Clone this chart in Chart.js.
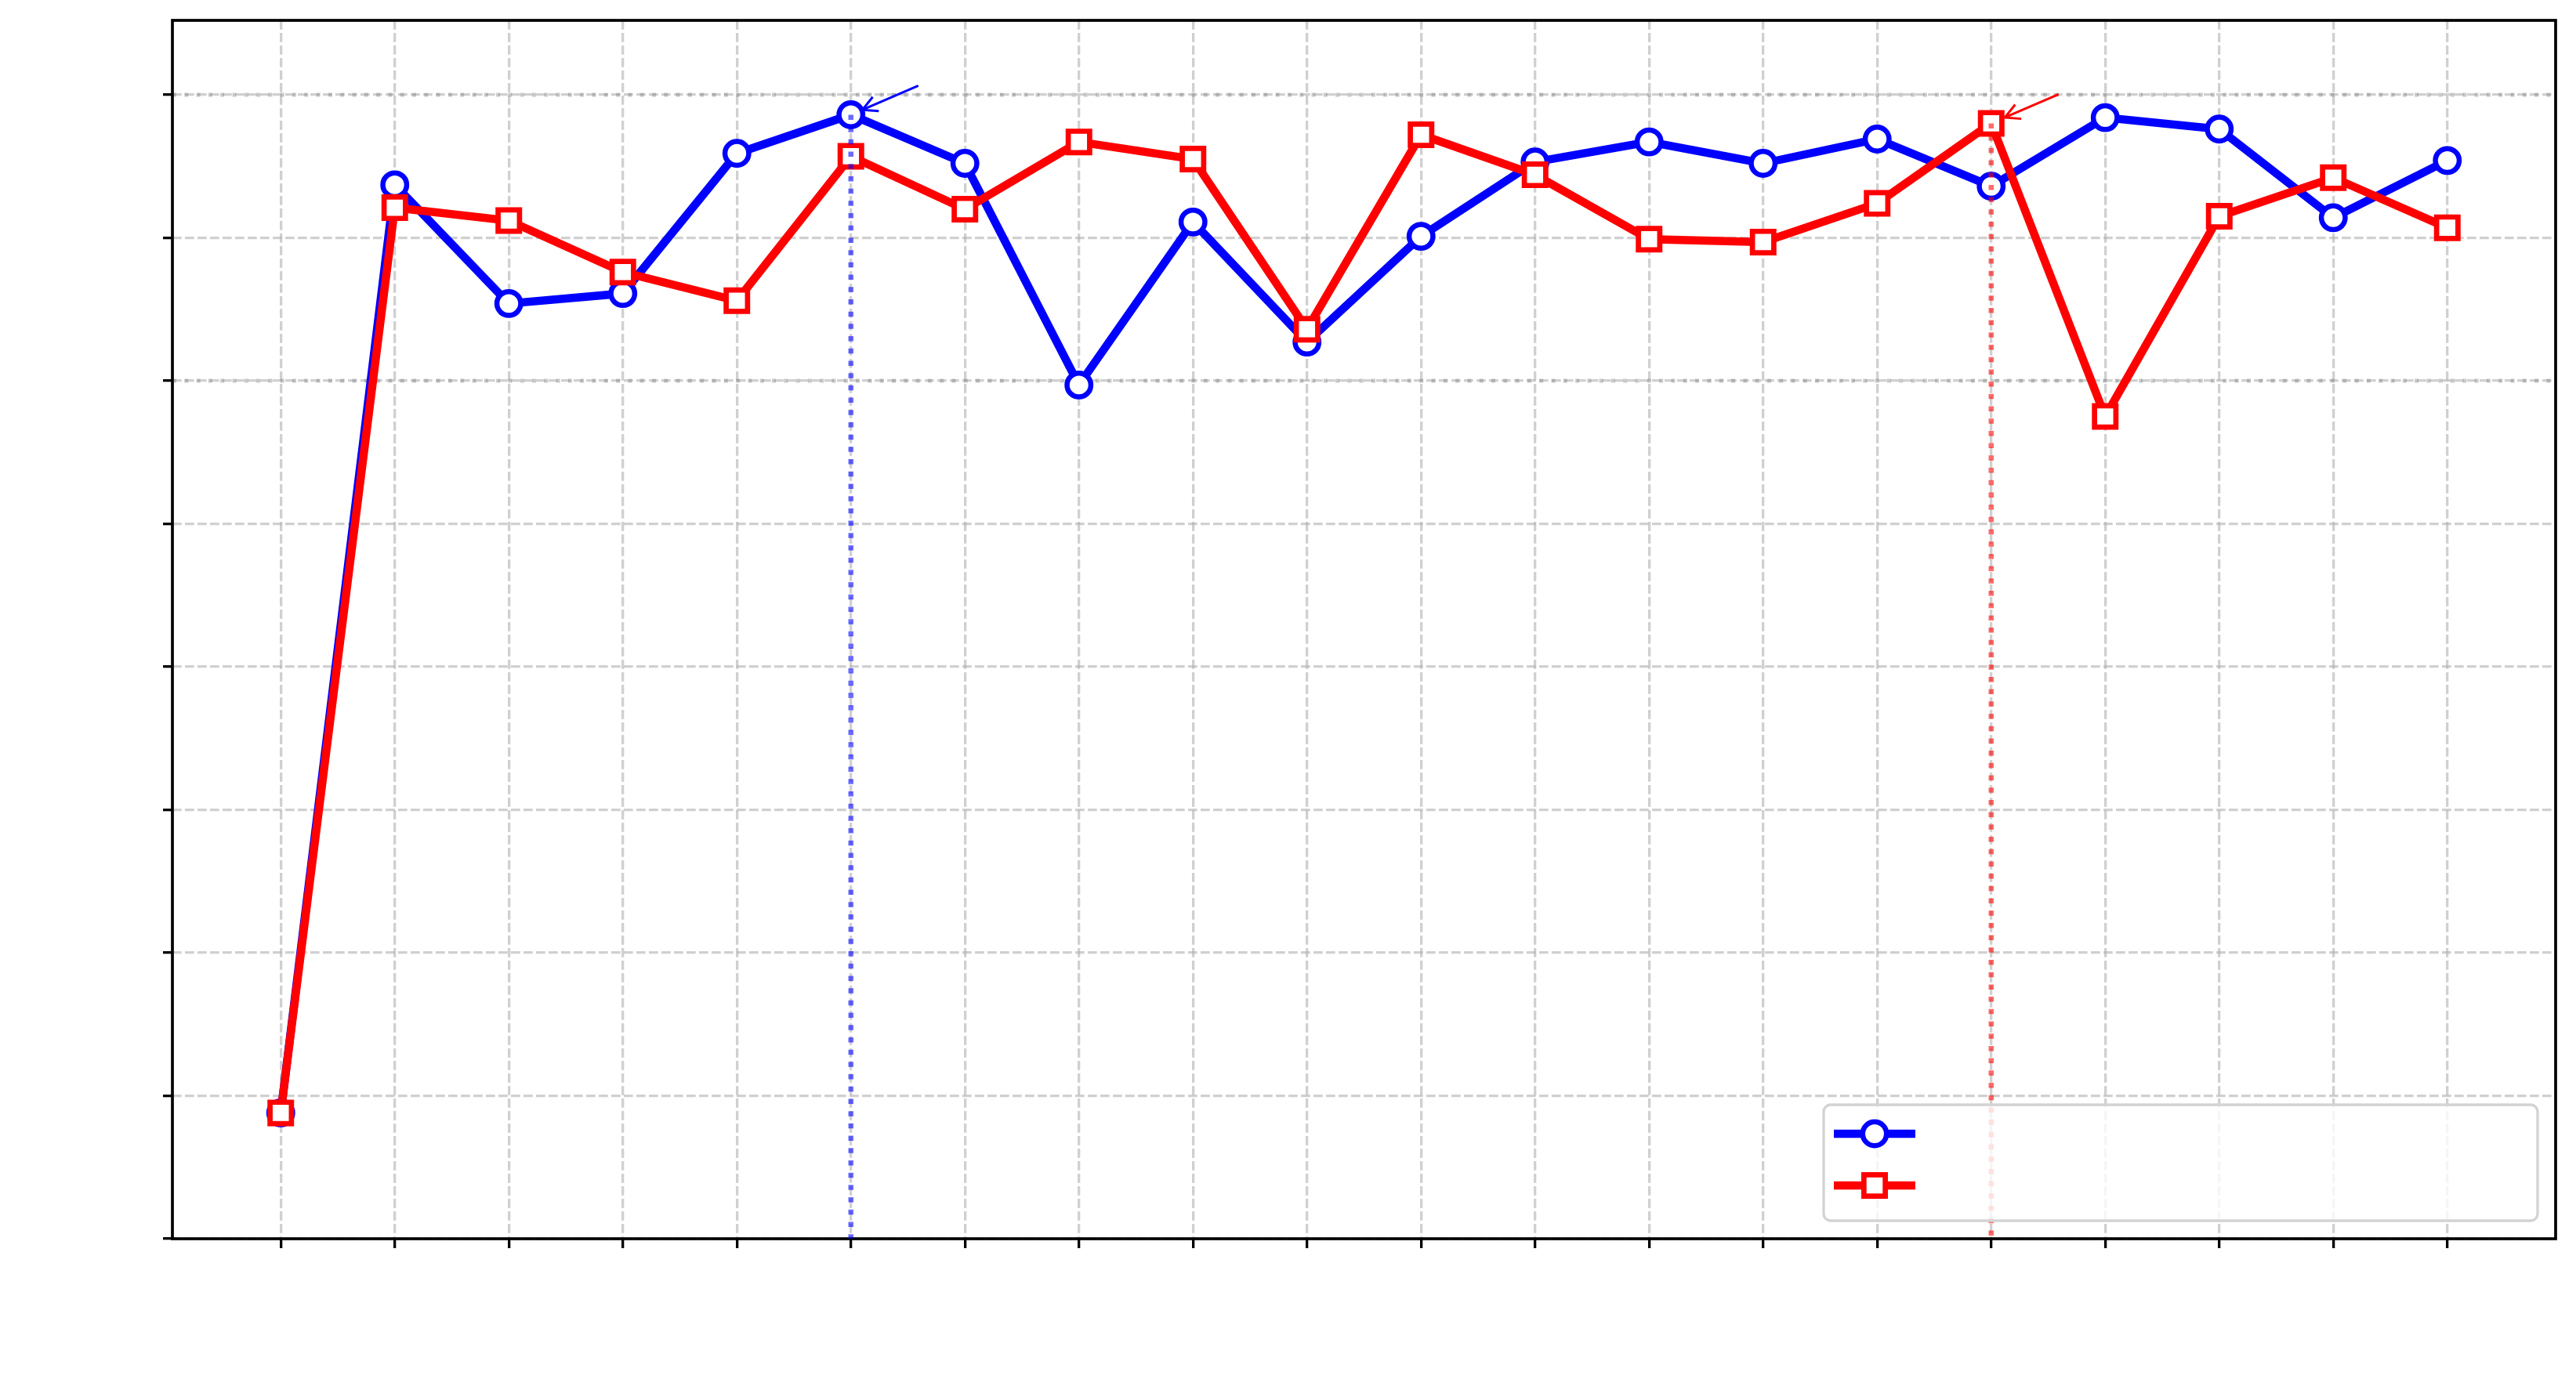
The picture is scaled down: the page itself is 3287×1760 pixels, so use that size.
<!DOCTYPE html>
<html><head><meta charset="utf-8">
<script src="https://cdn.jsdelivr.net/npm/chart.js@4/dist/chart.umd.min.js"></script>
<style>html,body{margin:0;padding:0;background:#fff;overflow:hidden}#wrap{width:3287px;height:1760px}</style>
</head><body><div id="wrap"><canvas id="c" width="3287" height="1760"></canvas></div>
<script>
// ---- data ----
const xValues = [0,1,2,3,4,5,6,7,8,9,10,11,12,13,14,15,16,17,18,19];
const xTickValues = [0,1,2,3,4,5,6,7,8,9,10,11,12,13,14,15,16,17,18,19];
const yTickValues = [0,10,20,30,40,50,60,70,80];
const seriesBlue = [8.8,73.7,65.4,66.1,75.9,78.6,75.2,59.7,71.1,62.7,70.1,75.3,76.7,75.2,76.9,73.6,78.4,77.6,71.4,75.4];
const seriesRed  = [8.8,72.1,71.2,67.6,65.6,75.7,72.0,76.7,75.5,63.6,77.2,74.4,69.9,69.7,72.4,78.0,57.5,71.5,74.2,70.7];
const seriesNames = ['', ''];
const referenceLevels = [80, 60];
const bestBlueIndex = 5;
const bestRedIndex = 15;
const yMin = 0, yMax = 85.2;
const xMin = -0.95, xMax = 19.95;

const BLUE = '#0000ff', RED = '#ff0000';
const CIRCLE_R = 15.2, CIRCLE_BW = 6.5;
const RECT_R = 19.3, RECT_BW = 6.7;

const toPts = arr => xValues.map((x, i) => ({x: x, y: arr[i]}));

const extras = {
  id: 'extras',
  beforeDatasetsDraw(chart) {
    const {ctx, chartArea: a, scales: {y}} = chart;
    ctx.save();
    ctx.strokeStyle = 'rgba(128,128,128,0.42)';
    ctx.lineWidth = 5;
    ctx.setLineDash([5, 10.3]);
    referenceLevels.forEach(v => {
      const py = y.getPixelForValue(v);
      ctx.beginPath(); ctx.moveTo(a.left, py); ctx.lineTo(a.right, py); ctx.stroke();
    });
    ctx.restore();
  },
  afterDatasetsDraw(chart) {
    const {ctx, chartArea: a} = chart;
    ctx.save();
    ctx.strokeStyle = '#000'; ctx.lineWidth = 3.7; ctx.setLineDash([]);
    ctx.strokeRect(a.left, a.top, a.right - a.left, a.bottom - a.top);
    ctx.restore();
    const marks = [
      {ds: 0, idx: bestBlueIndex, color: 'rgba(0,0,255,0.58)', solid: BLUE, shrink: 16},
      {ds: 1, idx: bestRedIndex, color: 'rgba(255,0,0,0.58)', solid: RED, shrink: 19}
    ];
    marks.forEach(m => {
      const p = chart.getDatasetMeta(m.ds).data[m.idx];
      ctx.save();
      ctx.strokeStyle = m.color; ctx.lineWidth = 6.5; ctx.setLineDash([6.5, 9.2]);
      ctx.beginPath(); ctx.moveTo(p.x, p.y); ctx.lineTo(p.x, a.bottom); ctx.stroke();
      ctx.restore();
      const sx = p.x + 86, sy = p.y - 37;
      const dx = sx - p.x, dy = sy - p.y, L = Math.hypot(dx, dy);
      const ux = dx / L, uy = dy / L;
      const tx = p.x + ux * m.shrink, ty = p.y + uy * m.shrink;
      ctx.save();
      ctx.strokeStyle = m.solid; ctx.lineWidth = 3; ctx.setLineDash([]);
      ctx.beginPath(); ctx.moveTo(sx, sy); ctx.lineTo(tx, ty); ctx.stroke();
      const ang = Math.atan2(uy, ux), ha = 28 * Math.PI / 180, hl = 21;
      ctx.beginPath();
      ctx.moveTo(tx + Math.cos(ang - ha) * hl, ty + Math.sin(ang - ha) * hl);
      ctx.lineTo(tx, ty);
      ctx.lineTo(tx + Math.cos(ang + ha) * hl, ty + Math.sin(ang + ha) * hl);
      ctx.stroke();
      ctx.restore();
    });
  },
  afterDraw(chart) {
    const {ctx, chartArea: a} = chart;
    const w = 911, h = 148;
    const right = a.right - 23, bottom = a.bottom - 23;
    const left = right - w, top = bottom - h;
    ctx.save();
    ctx.beginPath();
    ctx.roundRect(left, top, w, h, 9);
    ctx.fillStyle = 'rgba(255,255,255,0.8)';
    ctx.fill();
    ctx.strokeStyle = '#d3d3d3'; ctx.lineWidth = 3.3;
    ctx.stroke();
    const rows = [
      {color: BLUE, style: 'circle', r: CIRCLE_R, bw: CIRCLE_BW, y: top + 37},
      {color: RED, style: 'rect', r: RECT_R, bw: RECT_BW, y: top + 103}
    ];
    rows.forEach((r, i) => {
      const x1 = left + 13, x2 = left + 117, cx = (x1 + x2) / 2;
      ctx.strokeStyle = r.color; ctx.lineWidth = 10.5;
      ctx.beginPath(); ctx.moveTo(x1, r.y); ctx.lineTo(x2, r.y); ctx.stroke();
      ctx.fillStyle = '#fff'; ctx.lineWidth = r.bw;
      Chart.helpers.drawPoint(ctx, {pointStyle: r.style, radius: r.r, borderWidth: r.bw, rotation: 0}, cx, r.y);
      ctx.fillStyle = '#000'; ctx.font = '40px "DejaVu Sans"'; ctx.textBaseline = 'middle';
      ctx.fillText(seriesNames[i], x2 + 30, r.y);
    });
    ctx.restore();
  }
};

const gridCommon = {
  color: 'rgba(176,176,176,0.6)', lineWidth: 3.3,
  tickColor: '#000', tickWidth: 3.3, tickLength: 12, drawTicks: true, drawOnChartArea: true
};

new Chart(document.getElementById('c'), {
  type: 'line',
  data: {
    datasets: [
      {label: seriesNames[0], data: toPts(seriesBlue), borderColor: BLUE, borderWidth: 10.5,
       pointStyle: 'circle', pointRadius: CIRCLE_R, pointBorderWidth: CIRCLE_BW, pointBackgroundColor: '#fff',
       pointBorderColor: BLUE, tension: 0, order: 2, fill: false},
      {label: seriesNames[1], data: toPts(seriesRed), borderColor: RED, borderWidth: 10.5,
       pointStyle: 'rect', pointRadius: RECT_R, pointBorderWidth: RECT_BW, pointBackgroundColor: '#fff',
       pointBorderColor: RED, tension: 0, order: 1, fill: false}
    ]
  },
  options: {
    responsive: false, animation: false, devicePixelRatio: 1,
    layout: {padding: {left: 208, right: 22, top: 25, bottom: 167}},
    plugins: {legend: {display: false}, tooltip: {enabled: false}, title: {display: false}},
    scales: {
      x: {type: 'linear', min: xMin, max: xMax,
          afterBuildTicks: s => { s.ticks = xTickValues.map(v => ({value: v})); },
          ticks: {display: false}, grid: gridCommon,
          border: {display: false, dash: [11.7, 4.3]}},
      y: {type: 'linear', min: yMin, max: yMax,
          afterBuildTicks: s => { s.ticks = yTickValues.map(v => ({value: v})); },
          ticks: {display: false}, grid: gridCommon,
          border: {display: false, dash: [11.7, 4.3]}}
    }
  },
  plugins: [extras]
});
</script></body></html>
